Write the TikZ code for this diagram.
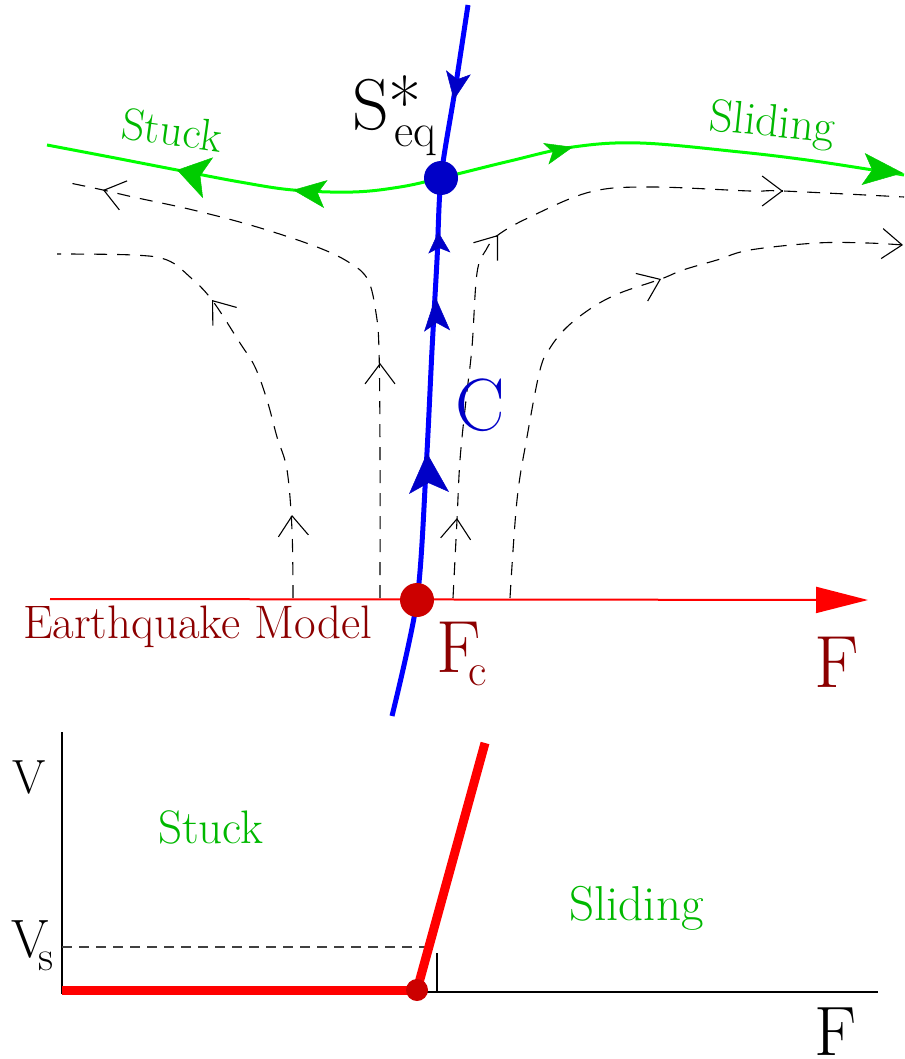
\documentclass[tikz,border=0pt]{standalone}
\usetikzlibrary{arrows.meta}
\definecolor{bl}{rgb}{0,0,1}
\definecolor{dkbl}{rgb}{0,0,0.78}
\definecolor{gr}{rgb}{0,1,0}
\definecolor{dkgr}{rgb}{0,0.8,0}
\definecolor{grtext}{rgb}{0,0.72,0}
\definecolor{rd}{rgb}{1,0,0}
\definecolor{dotred}{rgb}{0.8,0,0}
\definecolor{dkred}{rgb}{0.55,0,0}
\begin{document}
\begin{tikzpicture}[x=1pt,y=-1pt,
  flow/.style={draw=black, line width=1.1pt, dash pattern=on 13pt off 10pt},
  barb/.style={draw=black, solid, line width=1.1pt, -{Straight Barb[length=20pt,width=30pt]}},
  blline/.style={draw=bl, line width=5pt},
  grline/.style={draw=gr, line width=3pt},
  blarrow/.style={draw=dkbl, fill=dkbl, line width=0.5pt},
  grarrow/.style={draw=dkgr, fill=dkgr, line width=0.5pt},
  dot/.style={circle, inner sep=0pt, minimum size=#1},
  lbl/.style={inner sep=0pt, anchor=base west},
  huge/.style={lbl, font=\fontsize{72}{76}\selectfont},
  mid/.style={lbl, font=\fontsize{46}{50}\selectfont},
]
\useasboundingbox (0,0) rectangle (904,1059);

% ---------- named points ----------
\coordinate (seq) at (441,178);
\coordinate (fc) at (417,600);

% ---------- dashed flow lines ----------
\draw[flow] plot[smooth, tension=0.6] coordinates {(380,598) (380,450) (379,350) (376,313) (368,280) (350,263) (317,247) (257,227) (193,210) (133,197) (103,190) (65,182)};
\draw[flow] plot[smooth, tension=0.6] coordinates {(293,598) (292,530) (287,470) (277,437) (267,400) (255,367) (240,343) (212,300) (190,277) (167,260) (133,255) (57,254)};
\draw[flow] plot[smooth, tension=0.6] coordinates {(453,598) (457,520) (460,460) (466,400) (472,347) (477,273) (486,250) (498,235) (530,217) (590,192) (650,187) (750,191) (783,191) (904,197)};
\draw[flow] plot[smooth, tension=0.6] coordinates {(510,598) (517,500) (527,437) (540,370) (550,348) (567,327) (593,307) (620,293) (661,279) (683,270) (717,260) (750,250) (817,243) (867,243) (903,245)};

% open arrowheads on the flow lines
\draw[barb] (380,364.5) -- (380,363);
\draw[barb] (104.5,190.4) -- (103,190);
\draw[barb] (292.1,516.5) -- (292,515);
\draw[barb] (213,301.3) -- (212,300);
\draw[barb] (456.9,519.5) -- (457,518);
\draw[barb] (497.1,236.2) -- (498,235);
\draw[barb] (781.5,191) -- (783,191);
\draw[barb] (659.6,279.6) -- (661,279);
\draw[barb] (901.5,244.9) -- (903,245);

% ---------- red F axis ----------
\draw[draw=rd, line width=2pt, -{Triangle[length=52pt,width=26pt]}] (50,599) -- (868,600);

% ---------- green line ----------
\draw[grline] plot[smooth, tension=0.6] coordinates {(47,145) (110,157) (177,170) (240,182) (293,190) (353,192) (400,187) (441,178) (510,161) (573,147) (640,143) (740,152) (807,160) (873,170) (904,175)};
\draw[grarrow, -{Stealth[length=32pt,width=42pt,inset=8pt]}] (181,171) -- (177,170);
\draw[grarrow, -{Stealth[length=33pt,width=28pt,inset=8pt]}] (297,190.5) -- (293,190);
\draw[grarrow, -{Stealth[length=28pt,width=22pt,inset=7pt]}] (569,148) -- (573,147);
\draw[grarrow, -{Stealth[length=40pt,width=32pt,inset=9pt]}] (899,172.6) -- (903,173);

% ---------- blue line ----------
\draw[blline] plot[smooth, tension=0.5] coordinates {(468,5) (455,90) (441,178) (437,260) (432,350) (426,470) (417,600) (392,716)};
\draw[blarrow, -{Stealth[length=28pt,width=25pt,inset=7pt]}] (454.3,97) -- (453.8,100);
\draw[blarrow, -{Stealth[length=21pt,width=22pt,inset=5pt]}] (438.4,234) -- (438.3,232);
\draw[blarrow, -{Stealth[length=34pt,width=26pt,inset=8pt]}] (435.5,299) -- (435.4,297);
\draw[blarrow, -{Stealth[length=40pt,width=40pt,inset=10pt]}] (427.1,455) -- (427,453);

% ---------- dots ----------
\node[dot=34pt, fill=dkbl] (seqdot) at (seq) {};
\node[dot=34pt, fill=dotred] (fcdot) at (fc) {};

% ---------- labels (top) ----------
\node[huge] (slab) at (352,130) {S*};
\node[lbl, font=\fontsize{47}{50}\selectfont] (eqlab) at (394,147) {eq};
\node[huge, text=dkbl, font=\fontsize{74}{78}\selectfont] (clab) at (455,430) {C};
\node[huge, text=dkred, font=\fontsize{74}{78}\selectfont] (fclab) at (436,672) {F};
\node[lbl, text=dkred, font=\fontsize{45}{50}\selectfont] (csub) at (468,685) {c};
\node[lbl, text=dkred, font=\fontsize{74}{78}\selectfont] (flab) at (814,687) {F};
\node[lbl, text=dkred, font=\fontsize{47}{52}\selectfont] (eqmodel) at (23,638) {Earthquake Model};
\node[lbl, text=grtext, font=\fontsize{45}{50}\selectfont, rotate=-8] (stucktop) at (120,138) {Stuck};
\node[lbl, text=grtext, font=\fontsize{46}{50}\selectfont, rotate=-6] (slidetop) at (708,130) {Sliding};

% ---------- bottom plot ----------
\coordinate (origin) at (62,992);
\coordinate (knee) at (417,990);
\draw[black, line width=2pt] (62,732) -- (62,994);
\draw[black, line width=2pt] (61,992) -- (878,992);
\draw[black!75, line width=1.1pt, dash pattern=on 10pt off 7pt] (62,947) -- (431,947);
\draw[black, line width=1.1pt] (437,953) -- (437,992);
\draw[rd, line width=9pt] (62,990) -- (knee);
\draw[rd, line width=9pt] (knee) -- (485,743);
\node[dot=22pt, fill=dotred] (kneedot) at (knee) {};

\node[lbl, font=\fontsize{48}{52}\selectfont] (vlab) at (12,793) {V};
\node[lbl, font=\fontsize{54}{58}\selectfont] (vslab) at (11,957) {V};
\node[lbl, font=\fontsize{42}{46}\selectfont] (vssub) at (38,970) {s};
\node[lbl, font=\fontsize{70}{74}\selectfont] (fbot) at (814,1055) {F};
\node[lbl, text=grtext, font=\fontsize{47}{52}\selectfont] (stuckbot) at (158,843) {Stuck};
\node[lbl, text=grtext, font=\fontsize{49}{54}\selectfont] (slidebot) at (569,920) {Sliding};
\end{tikzpicture}
\end{document}
